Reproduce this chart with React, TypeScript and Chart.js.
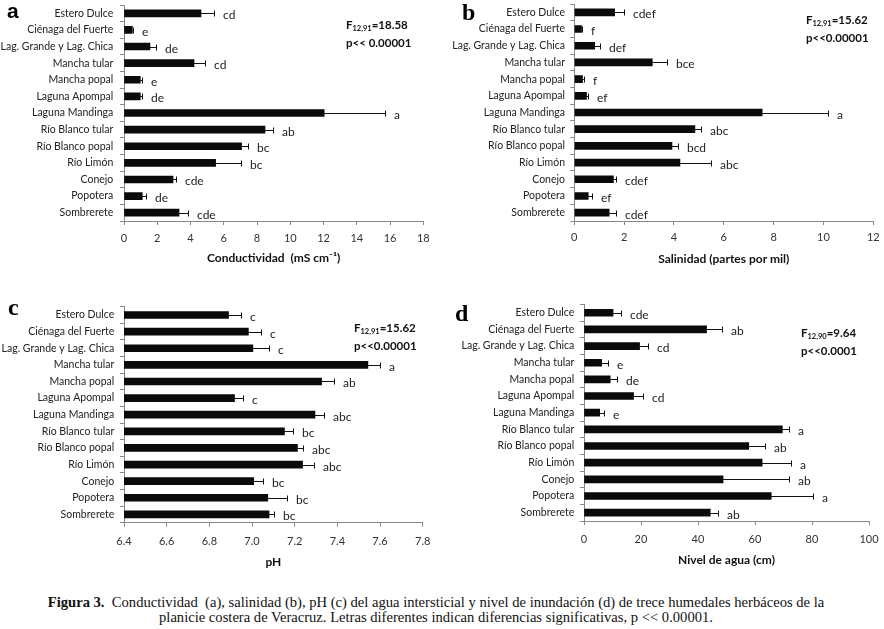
import React, { useEffect, useRef } from "react";
import { Chart, registerables } from "chart.js";

Chart.register(...registerables);

// ---------- data ----------
const categories = [
  "Estero Dulce",
  "Ciénaga del Fuerte",
  "Lag. Grande y Lag. Chica",
  "Mancha tular",
  "Mancha popal",
  "Laguna Apompal",
  "Laguna Mandinga",
  "Río Blanco tular",
  "Río Blanco popal",
  "Río Limón",
  "Conejo",
  "Popotera",
  "Sombrerete",
];

const conductividad = [4.63, 0.5, 1.56, 4.21, 0.98, 0.98, 12.04, 8.48, 7.07, 5.51, 2.95, 1.1, 3.31];
const conductividadErr = [0.8, 0.05, 0.34, 0.66, 0.08, 0.08, 3.65, 0.46, 0.4, 1.52, 0.18, 0.2, 0.52];
const conductividadLetters = ["cd", "e", "de", "cd", "e", "de", "a", "ab", "bc", "bc", "cde", "de", "cde"];

const salinidad = [1.62, 0.29, 0.82, 3.13, 0.33, 0.49, 7.54, 4.84, 3.92, 4.24, 1.57, 0.56, 1.4];
const salinidadErr = [0.36, 0.03, 0.21, 0.58, 0.07, 0.07, 2.63, 0.24, 0.25, 1.24, 0.09, 0.14, 0.26];
const salinidadLetters = ["cdef", "f", "def", "bce", "f", "ef", "a", "abc", "bcd", "abc", "cdef", "ef", "cdef"];

const ph = [6.89, 6.983, 7.004, 7.543, 7.326, 6.918, 7.295, 7.152, 7.213, 7.237, 7.008, 7.074, 7.08];
const phErr = [0.059, 0.058, 0.076, 0.058, 0.056, 0.039, 0.042, 0.038, 0.028, 0.055, 0.044, 0.091, 0.021];
const phLetters = ["c", "c", "c", "a", "ab", "c", "abc", "bc", "abc", "abc", "bc", "bc", "bc"];

const nivel = [10.2, 43.0, 19.5, 6.2, 9.2, 17.4, 5.5, 69.6, 57.8, 62.5, 48.8, 65.7, 44.3];
const nivelErr = [2.8, 5.5, 3.1, 2.3, 2.4, 3.4, 1.4, 2.3, 5.8, 10.1, 23.2, 14.5, 2.6];
const nivelLetters = ["cde", "ab", "cd", "e", "de", "cd", "e", "a", "ab", "a", "ab", "a", "ab"];

// ---------- styling ----------
const SANS = "Lato, 'Open Sans', 'DejaVu Sans', sans-serif";
const SERIF = "'Liberation Serif', 'DejaVu Serif', serif";
const AXIS_COLOR = "#888";

type PanelCfg = {
  values: number[];
  errors: number[];
  letters: string[];
  min: number;
  max: number;
  step: number;
  decimals: number;
  title: string;
  yAxisWidth: number;
  xAxisHeight: number;
  padTop: number;
  padRight: number;
  xTickPad: number;
  yTickPad: number;
  titlePadBottom: number;
};

function makeErrorPlugin(cfg: PanelCfg) {
  return {
    id: "errorBarsLetters",
    afterDatasetsDraw(chart: any) {
      const { ctx } = chart;
      const xs = chart.scales.x;
      const ys = chart.scales.y;
      ctx.save();
      ctx.strokeStyle = "#111";
      ctx.lineWidth = 1;
      ctx.fillStyle = "#222";
      ctx.font = `12px ${SANS}`;
      ctx.textAlign = "left";
      ctx.textBaseline = "middle";
      cfg.values.forEach((v, i) => {
        const yc = Math.round(ys.getPixelForValue(i));
        const x0 = xs.getPixelForValue(v);
        const x1 = Math.round(xs.getPixelForValue(v + cfg.errors[i]));
        ctx.beginPath();
        ctx.moveTo(x0, yc + 0.5);
        ctx.lineTo(x1, yc + 0.5);
        ctx.moveTo(x1 + 0.5, yc - 2.5);
        ctx.lineTo(x1 + 0.5, yc + 3.5);
        ctx.stroke();
        ctx.fillText(cfg.letters[i], x1 + 9, yc + 2);
      });
      ctx.restore();
    },
  };
}

function Panel({ cfg, left, top, width, height }: { cfg: PanelCfg; left: number; top: number; width: number; height: number }) {
  const ref = useRef<HTMLCanvasElement | null>(null);
  useEffect(() => {
    if (!ref.current) return;
    const chart = new Chart(ref.current, {
      type: "bar",
      data: {
        labels: categories,
        datasets: [
          {
            data: cfg.values,
            backgroundColor: "#0a0a0a",
            borderWidth: 0,
            barThickness: 7,
          },
        ],
      },
      options: {
        indexAxis: "y",
        responsive: false,
        animation: false,
        devicePixelRatio: 1,
        layout: { padding: { left: 0, right: cfg.padRight, top: cfg.padTop, bottom: 0 } },
        plugins: { legend: { display: false }, tooltip: { enabled: false }, title: { display: false } },
        scales: {
          x: {
            type: "linear",
            min: cfg.min,
            max: cfg.max,
            ticks: {
              stepSize: cfg.step,
              font: { family: SANS, size: 11 },
              color: "#333",
              padding: cfg.xTickPad,
              callback: (v: any) => Number(v).toFixed(cfg.decimals),
            },
            grid: { display: true, drawOnChartArea: false, drawTicks: true, tickLength: 4, color: AXIS_COLOR },
            border: { display: true, color: AXIS_COLOR },
            title: {
              display: true,
              text: cfg.title,
              font: { family: SANS, size: 12, weight: "bold" },
              color: "#111",
              padding: { top: 0, bottom: cfg.titlePadBottom },
            },
            afterFit: (s: any) => {
              s.height = cfg.xAxisHeight;
              s.paddingLeft = 0;
              s.paddingRight = 0;
            },
          },
          y: {
            type: "category",
            ticks: {
              font: { family: SANS, size: 10.5 },
              color: "#222",
              padding: cfg.yTickPad,
              autoSkip: false,
            },
            grid: { display: true, offset: true, drawOnChartArea: false, drawTicks: true, tickLength: 4, color: AXIS_COLOR },
            border: { display: true, color: AXIS_COLOR },
            afterFit: (s: any) => {
              s.width = cfg.yAxisWidth;
              s.paddingTop = 0;
              s.paddingBottom = 0;
            },
          },
        },
      } as any,
      plugins: [makeErrorPlugin(cfg)],
    });
    return () => chart.destroy();
  }, []);
  return (
    <canvas
      ref={ref}
      width={width}
      height={height}
      style={{ position: "absolute", left, top, width, height }}
    />
  );
}

const panelA: PanelCfg = {
  values: conductividad, errors: conductividadErr, letters: conductividadLetters,
  min: 0, max: 18, step: 2, decimals: 0, title: "Conductividad  (mS cm⁻¹)",
  yAxisWidth: 124, xAxisHeight: 51, padTop: 5, padRight: 18.7, xTickPad: 6.7, yTickPad: 6.7, titlePadBottom: 6.5,
};
const panelB: PanelCfg = {
  values: salinidad, errors: salinidadErr, letters: salinidadLetters,
  min: 0, max: 12, step: 2, decimals: 0, title: "Salinidad (partes por mil)",
  yAxisWidth: 132.3, xAxisHeight: 51, padTop: 4, padRight: 10.7, xTickPad: 5.7, yTickPad: 5.3, titlePadBottom: 5.5,
};
const panelC: PanelCfg = {
  values: ph, errors: phErr, letters: phLetters,
  min: 6.4, max: 7.8, step: 0.2, decimals: 1, title: "pH",
  yAxisWidth: 124, xAxisHeight: 57.3, padTop: 16.7, padRight: 19.3, xTickPad: 8.4, yTickPad: 5.7, titlePadBottom: 11.1,
};
const panelD: PanelCfg = {
  values: nivel, errors: nivelErr, letters: nivelLetters,
  min: 0, max: 100, step: 20, decimals: 0, title: "Nivel de agua (cm)",
  yAxisWidth: 142, xAxisHeight: 59, padTop: 14.4, padRight: 15, xTickPad: 7.4, yTickPad: 5.7, titlePadBottom: 12.8,
};

function Stats({ left, top, sub, f, p }: { left: number; top: number; sub: string; f: string; p: string }) {
  return (
    <div
      style={{
        position: "absolute", left, top, font: `bold 11.5px ${SANS}`, lineHeight: "13.5px",
        color: "#111", whiteSpace: "pre",
      }}
    >
      <div>
        F<span style={{ fontSize: "7.5px", verticalAlign: "-2px" }}>{sub}</span>={f}
      </div>
      <div>{p}</div>
    </div>
  );
}

function Letter({ text, left, top, serif }: { text: string; left: number; top: number; serif: boolean }) {
  return (
    <div
      style={{
        position: "absolute", left, top, lineHeight: "24px",
        font: serif ? `bold 24px ${SERIF}` : `bold 21px 'Liberation Sans', Arial, sans-serif`,
        color: "#000",
      }}
    >
      {text}
    </div>
  );
}

export default function App() {
  return (
    <div style={{ position: "fixed", left: 0, top: 0, width: 884, height: 629, background: "#fff", overflow: "hidden" }}>
      <Panel cfg={panelA} left={0} top={0} width={442} height={272} />
      <Panel cfg={panelB} left={442} top={0} width={442} height={272} />
      <Panel cfg={panelC} left={0} top={290} width={442} height={290} />
      <Panel cfg={panelD} left={442} top={290} width={442} height={290} />

      <Letter text="a" left={7} top={-1} serif={false} />
      <Letter text="b" left={462} top={-1} serif={true} />
      <Letter text="c" left={8} top={294} serif={true} />
      <Letter text="d" left={455} top={300} serif={true} />

      <Stats left={346} top={18} sub="12,91" f="18.58" p="p<< 0.00001" />
      <Stats left={806} top={13} sub="12,91" f="15.62" p="p<<0.00001" />
      <Stats left={354} top={321} sub="12,91" f="15.62" p="p<<0.00001" />
      <Stats left={801} top={326} sub="12,90" f="9.64" p="p<<0.0001" />

      <div
        style={{
          position: "absolute", left: 0, top: 595, width: 872, textAlign: "center",
          font: `14.6px ${SERIF}`, lineHeight: "15px", color: "#111", whiteSpace: "pre",
        }}
      >
        <b>Figura 3.</b>
        {"  Conductividad  (a), salinidad (b), pH (c) del agua intersticial y nivel de inundación (d) de trece humedales herbáceos de la"}
        <br />
        {"planicie costera de Veracruz. Letras diferentes indican diferencias significativas, p << 0.00001."}
      </div>
    </div>
  );
}
